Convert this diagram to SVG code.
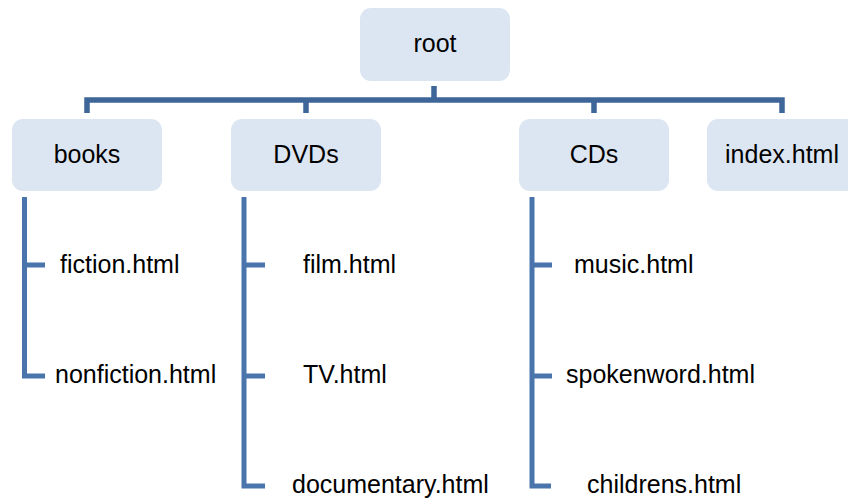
<svg xmlns="http://www.w3.org/2000/svg" width="848" height="500" viewBox="0 0 848 500">
<style>
.box{fill:#DCE6F2;}
.t{font-family:"Liberation Sans",Arial,sans-serif;font-size:25px;fill:#000;}
.c{text-anchor:middle;}
.bus{fill:none;stroke:#3F6698;stroke-width:5.5;stroke-linejoin:miter;}
.leaf{fill:none;stroke:#4A74AC;stroke-width:5;stroke-linejoin:miter;}
</style>
<rect width="848" height="500" fill="#fff"/>
<g id="connectors">
<path class="bus" d="M434,86 V100 M87,113 V100 H782 V113 M306,100 V113 M594,100 V113"/>
<path class="leaf" d="M24.5,197 V376 H45 M24.5,265 H45"/>
<path class="leaf" d="M244,197 V486 H265 M244,265 H265 M244,376 H265"/>
<path class="leaf" d="M532,197 V486 H551 M532,265 H552 M532,376 H552"/>
</g>
<g id="root"><rect class="box" x="360" y="8" width="150" height="73" rx="11"/><text class="t c" x="435" y="52">root</text></g>
<g id="books"><rect class="box" x="12" y="119" width="150" height="72" rx="11"/><text class="t c" x="87" y="163">books</text></g>
<g id="dvds"><rect class="box" x="231" y="119" width="150" height="72" rx="11"/><text class="t c" x="306" y="163">DVDs</text></g>
<g id="cds"><rect class="box" x="519" y="119" width="150" height="72" rx="11"/><text class="t c" x="594" y="163">CDs</text></g>
<g id="index"><rect class="box" x="707" y="119" width="150" height="72" rx="11"/><text class="t c" x="782" y="163">index.html</text></g>
<g id="fiction"><text class="t" x="60" y="273">fiction.html</text></g>
<g id="nonfiction"><text class="t" x="55" y="383">nonfiction.html</text></g>
<g id="film"><text class="t" x="303" y="273">film.html</text></g>
<g id="tv"><text class="t" x="303" y="383">TV.html</text></g>
<g id="documentary"><text class="t" x="292" y="493">documentary.html</text></g>
<g id="music"><text class="t" x="574" y="273">music.html</text></g>
<g id="spokenword"><text class="t" x="566" y="383">spokenword.html</text></g>
<g id="childrens"><text class="t" x="587" y="493">childrens.html</text></g>
</svg>
